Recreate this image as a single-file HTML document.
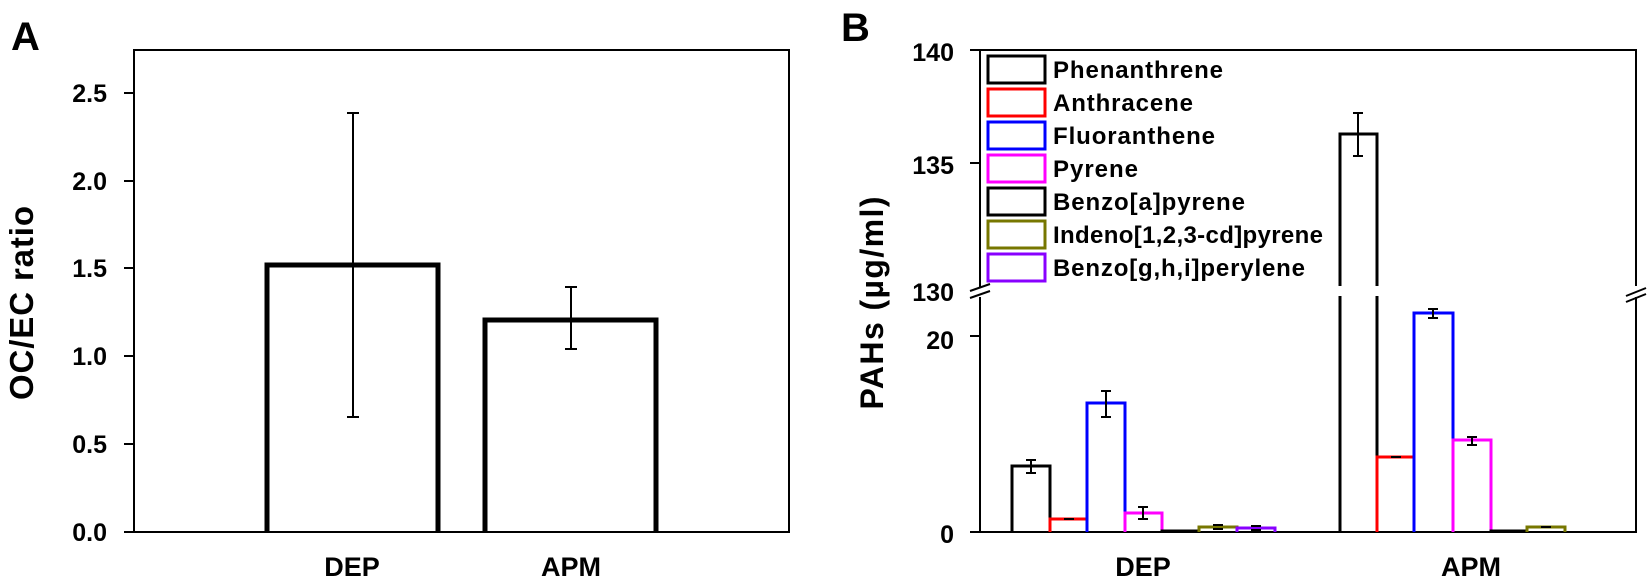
<!DOCTYPE html>
<html><head><style>body{margin:0;background:#fff}svg{display:block}text{font-family:"Liberation Sans",sans-serif;font-weight:bold;fill:#000}</style></head><body>
<svg width="1652" height="583" viewBox="0 0 1652 583">
<!-- Panel A -->
<text x="11" y="50" font-size="40">A</text>
<rect x="134" y="50" width="655" height="482" fill="none" stroke="#000" stroke-width="2"/>
<g stroke="#000" stroke-width="2">
<line x1="124" y1="532" x2="134" y2="532"/><line x1="124" y1="444" x2="134" y2="444"/><line x1="124" y1="356" x2="134" y2="356"/><line x1="124" y1="268" x2="134" y2="268"/><line x1="124" y1="181" x2="134" y2="181"/><line x1="124" y1="93" x2="134" y2="93"/>
</g>
<g font-size="25" text-anchor="end">
<text x="107" y="541">0.0</text><text x="107" y="453">0.5</text><text x="107" y="365">1.0</text><text x="107" y="277">1.5</text><text x="107" y="190">2.0</text><text x="107" y="102">2.5</text>
</g>
<text transform="translate(33,303) rotate(-90)" font-size="33" text-anchor="middle" textLength="194">OC/EC ratio</text>
<g fill="none" stroke="#000" stroke-width="5">
<polyline points="267,532 267,265 438,265 438,532"/>
<polyline points="485,532 485,320 656,320 656,532"/>
</g>
<g stroke="#000" stroke-width="2">
<line x1="353" y1="113" x2="353" y2="417"/><line x1="347" y1="113" x2="359" y2="113"/><line x1="347" y1="417" x2="359" y2="417"/>
<line x1="571" y1="287" x2="571" y2="349"/><line x1="565" y1="287" x2="577" y2="287"/><line x1="565" y1="349" x2="577" y2="349"/>
</g>
<text x="352" y="576" font-size="27" text-anchor="middle">DEP</text>
<text x="571" y="576" font-size="27" text-anchor="middle">APM</text>

<!-- Panel B -->
<text x="841" y="41" font-size="40">B</text>
<g stroke="#000" stroke-width="2" fill="none">
<polyline points="980,288 980,50 1636,50 1636,286"/>
<polyline points="980,297 980,532 1636,532 1636,297"/>
<line x1="970" y1="50" x2="980" y2="50"/><line x1="970" y1="163" x2="980" y2="163"/>
<line x1="970" y1="336" x2="980" y2="336"/><line x1="970" y1="532" x2="980" y2="532"/>
<line x1="970" y1="291" x2="990" y2="284"/><line x1="970" y1="298" x2="990" y2="291"/>
<line x1="1626" y1="296" x2="1646" y2="288"/><line x1="1626" y1="302" x2="1646" y2="294"/>
</g>
<g font-size="25" text-anchor="end">
<text x="954" y="61">140</text><text x="954" y="174">135</text><text x="954" y="301">130</text><text x="954" y="349">20</text><text x="954" y="543">0</text>
</g>
<text transform="translate(883,303) rotate(-90)" font-size="32" text-anchor="middle" textLength="213">PAHs (µg/ml)</text>
<g fill="none" stroke-width="3">
<polyline stroke="#000" points="1012,532 1012,466 1050,466 1050,532"/>
<polyline stroke="#f00" points="1050,532 1050,519 1087,519 1087,532"/>
<polyline stroke="#00f" points="1087,532 1087,403 1125,403 1125,532"/>
<polyline stroke="#f0f" points="1125,532 1125,513 1162,513 1162,532"/>
<polyline stroke="#000" points="1162,532 1162,531 1199,531 1199,532"/>
<polyline stroke="#770" points="1199,532 1199,527 1237,527 1237,532"/>
<polyline stroke="#80f" points="1237,532 1237,528 1275,528 1275,532"/>
<polyline stroke="#000" points="1340,532 1340,296"/><polyline stroke="#000" points="1377,532 1377,296"/>
<polyline stroke="#000" points="1340,286 1340,134 1377,134 1377,286"/>
<polyline stroke="#f00" points="1377,532 1377,457 1414,457 1414,532"/>
<polyline stroke="#00f" points="1414,532 1414,313 1453,313 1453,532"/>
<polyline stroke="#f0f" points="1453,532 1453,440 1491,440 1491,532"/>
<polyline stroke="#000" points="1491,532 1491,531 1527,531 1527,532"/>
<polyline stroke="#770" points="1527,532 1527,527 1565,527 1565,532"/>
</g>
<g stroke="#000" stroke-width="2">
<line x1="1031" y1="460" x2="1031" y2="473"/><line x1="1026" y1="460" x2="1036" y2="460"/><line x1="1026" y1="473" x2="1036" y2="473"/>
<line x1="1064" y1="519" x2="1074" y2="519"/>
<line x1="1106" y1="391" x2="1106" y2="417"/><line x1="1101" y1="391" x2="1111" y2="391"/><line x1="1101" y1="417" x2="1111" y2="417"/>
<line x1="1143" y1="507" x2="1143" y2="519"/><line x1="1138" y1="507" x2="1148" y2="507"/><line x1="1138" y1="519" x2="1148" y2="519"/>
<line x1="1213" y1="525" x2="1223" y2="525"/><line x1="1213" y1="529" x2="1223" y2="529"/>
<line x1="1251" y1="526" x2="1261" y2="526"/><line x1="1251" y1="530" x2="1261" y2="530"/>
<line x1="1358" y1="113" x2="1358" y2="156"/><line x1="1353" y1="113" x2="1363" y2="113"/><line x1="1353" y1="156" x2="1363" y2="156"/>
<line x1="1391" y1="457" x2="1401" y2="457"/>
<line x1="1433" y1="309" x2="1433" y2="318"/><line x1="1428" y1="309" x2="1438" y2="309"/><line x1="1428" y1="318" x2="1438" y2="318"/>
<line x1="1472" y1="437" x2="1472" y2="445"/><line x1="1467" y1="437" x2="1477" y2="437"/><line x1="1467" y1="445" x2="1477" y2="445"/>
<line x1="1541" y1="527" x2="1551" y2="527"/>
</g>
<g fill="none" stroke-width="3">
<rect x="988" y="56" width="57" height="27" stroke="#000"/>
<rect x="988" y="89" width="57" height="27" stroke="#f00"/>
<rect x="988" y="122" width="57" height="27" stroke="#00f"/>
<rect x="988" y="155" width="57" height="27" stroke="#f0f"/>
<rect x="988" y="188" width="57" height="27" stroke="#000"/>
<rect x="988" y="221" width="57" height="27" stroke="#770"/>
<rect x="988" y="254" width="57" height="27" stroke="#80f"/>
</g>
<g font-size="24">
<text x="1053" y="78" textLength="170">Phenanthrene</text>
<text x="1053" y="111" textLength="140">Anthracene</text>
<text x="1053" y="144" textLength="162">Fluoranthene</text>
<text x="1053" y="177" textLength="85">Pyrene</text>
<text x="1053" y="210" textLength="192">Benzo[a]pyrene</text>
<text x="1053" y="243" textLength="270">Indeno[1,2,3-cd]pyrene</text>
<text x="1053" y="276" textLength="252">Benzo[g,h,i]perylene</text>
</g>
<text x="1143" y="576" font-size="27" text-anchor="middle">DEP</text>
<text x="1471" y="576" font-size="27" text-anchor="middle">APM</text>
</svg>
</body></html>
